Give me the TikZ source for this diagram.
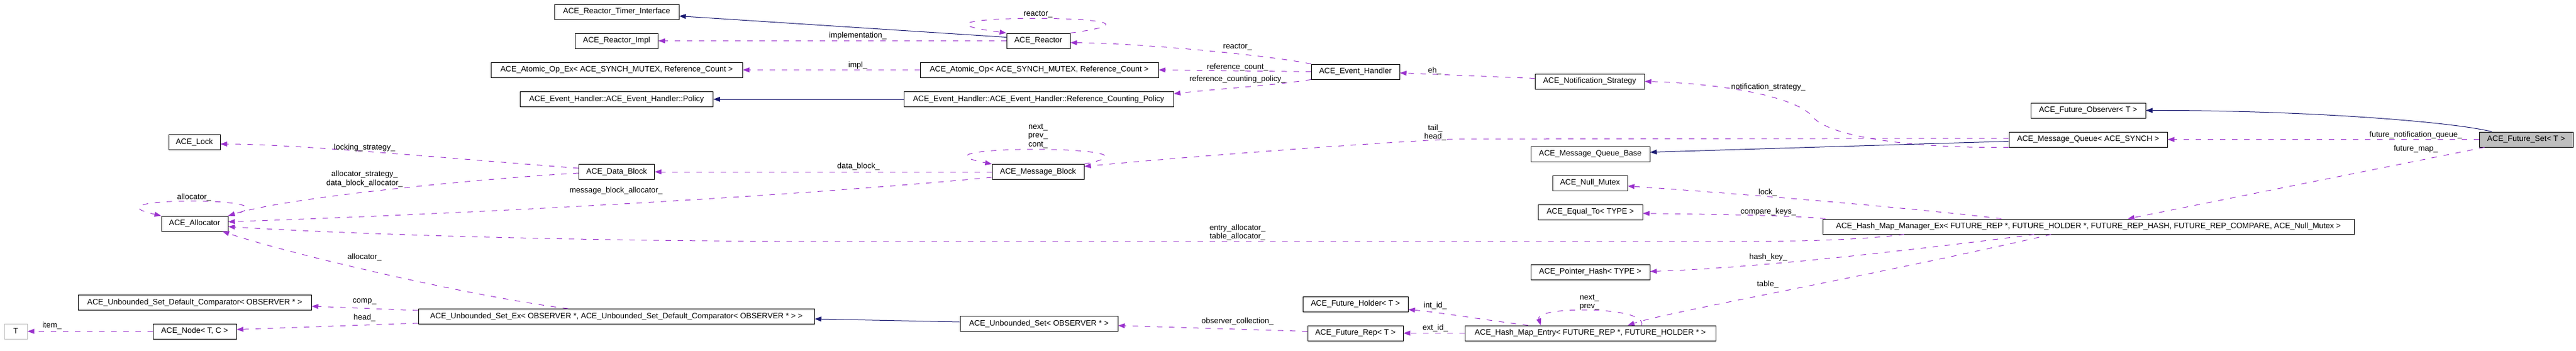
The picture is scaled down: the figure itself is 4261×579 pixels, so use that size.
\documentclass[tikz,border=0pt]{standalone}
\usepackage{fontspec}
\setmainfont{Liberation Sans}
\usetikzlibrary{arrows.meta}
\definecolor{usecol}{HTML}{9A32CD}
\definecolor{isacol}{HTML}{191970}

\begin{document}
\begin{tikzpicture}[x=1pt, y=-1pt,
    cls/.style={draw, line width=1pt, minimum height=25pt, inner sep=0pt, font=\fontsize{13}{14.5}\selectfont},
    lbl/.style={inner sep=0pt, align=center, font=\fontsize{13}{14.5}\selectfont},
    uses/.style={usecol, line width=1pt, dash pattern=on 9pt off 11pt, -{Triangle[length=11pt,width=8pt]}},
    isa/.style={isacol, line width=1pt, -{Triangle[length=11pt,width=8pt]}}]
    \useasboundingbox (0,0) rectangle (4261,579);

    \node[cls, minimum width=38pt, draw=gray!50] (tparam) at (26,547.5) {T};
    \node[cls, minimum width=85pt] (lock) at (321.5,235) {ACE\_Lock};
    \node[cls, minimum width=110pt] (allocator) at (322,369.5) {ACE\_Allocator};
    \node[cls, minimum width=386pt] (comparator) at (322,500) {ACE\_Unbounded\_Set\_Default\_Comparator< OBSERVER * >};
    \node[cls, minimum width=138pt] (acenode) at (322,547.5) {ACE\_Node< T, C >};
    \node[cls, minimum width=206pt] (timer) at (1020,19.5) {ACE\_Reactor\_Timer\_Interface};
    \node[cls, minimum width=137pt] (rimpl) at (1020,67.5) {ACE\_Reactor\_Impl};
    \node[cls, minimum width=416pt] (atomicex) at (1020,115.5) {ACE\_Atomic\_Op\_Ex< ACE\_SYNCH\_MUTEX, Reference\_Count >};
    \node[cls, minimum width=319pt] (policy) at (1020,164) {ACE\_Event\_Handler::ACE\_Event\_Handler::Policy};
    \node[cls, minimum width=125pt] (dblock) at (1020,284) {ACE\_Data\_Block};
    \node[cls, minimum width=655pt] (setex) at (1019.5,523) {ACE\_Unbounded\_Set\_Ex< OBSERVER *, ACE\_Unbounded\_Set\_Default\_Comparator< OBSERVER * > >};
    \node[cls, minimum width=105pt] (reactor) at (1717.5,67.5) {ACE\_Reactor};
    \node[cls, minimum width=394pt] (atomic) at (1719,115.5) {ACE\_Atomic\_Op< ACE\_SYNCH\_MUTEX, Reference\_Count >};
    \node[cls, minimum width=446pt] (rcpolicy) at (1718,164) {ACE\_Event\_Handler::ACE\_Event\_Handler::Reference\_Counting\_Policy};
    \node[cls, minimum width=152pt] (mblock) at (1717,284) {ACE\_Message\_Block};
    \node[cls, minimum width=261pt] (uset) at (1718.5,535) {ACE\_Unbounded\_Set< OBSERVER * >};
    \node[cls, minimum width=146pt] (evh) at (2242,118.5) {ACE\_Event\_Handler};
    \node[cls, minimum width=174pt] (fholder) at (2242,502.5) {ACE\_Future\_Holder< T >};
    \node[cls, minimum width=158pt] (frep) at (2242,550.5) {ACE\_Future\_Rep< T >};
    \node[cls, minimum width=181pt] (notif) at (2629.5,134.5) {ACE\_Notification\_Strategy};
    \node[cls, minimum width=197pt] (mqbase) at (2630.5,254.5) {ACE\_Message\_Queue\_Base};
    \node[cls, minimum width=124pt] (nullmutex) at (2630,302.5) {ACE\_Null\_Mutex};
    \node[cls, minimum width=173pt] (equalto) at (2630.5,350.5) {ACE\_Equal\_To< TYPE >};
    \node[cls, minimum width=197pt] (ptrhash) at (2630.5,449.5) {ACE\_Pointer\_Hash< TYPE >};
    \node[cls, minimum width=415pt] (hmentry) at (2630.5,550.5) {ACE\_Hash\_Map\_Entry< FUTURE\_REP *, FUTURE\_HOLDER * >};
    \node[cls, minimum width=190pt] (fobserver) at (3454,182.5) {ACE\_Future\_Observer< T >};
    \node[cls, minimum width=262pt] (mqueue) at (3454,230.5) {ACE\_Message\_Queue< ACE\_SYNCH >};
    \node[cls, minimum width=879pt] (hmmanager) at (3454.5,374.5) {ACE\_Hash\_Map\_Manager\_Ex< FUTURE\_REP *, FUTURE\_HOLDER *, FUTURE\_REP\_HASH, FUTURE\_REP\_COMPARE, ACE\_Null\_Mutex >};
    \node[cls, minimum width=155pt, fill=gray!50] (fset) at (4178.5,230.5) {ACE\_Future\_Set< T >};

    \draw[isa] ([yshift=6pt]reactor.west) -- ([yshift=-7pt]timer.east);
    \draw[uses] (reactor.west) -- (rimpl.east);
    \draw[uses] (reactor.north east) .. controls +(240,-32) and +(-240,-32) .. (reactor.north west);
    \draw[uses] (evh.north west) .. controls (2100,92) and (1900,72) .. ([yshift=-3pt]reactor.east);
    \draw[uses] (atomic.west) -- (atomicex.east);
    \draw[uses] (evh.west) -- (atomic.east);
    \draw[uses] (evh.south west) .. controls (2100,142) and (2000,148) .. ([yshift=-4pt]rcpolicy.north east);
    \draw[isa] (rcpolicy.west) -- (policy.east);
    \draw[uses] ([yshift=5pt]notif.west) -- ([yshift=-2pt]evh.east);
    \draw[uses] (mqueue.south west) .. controls (3150,245) and (3030,225) .. (3000,195) .. controls (2975,160) and (2850,138) .. (notif.east);
    \draw[isa] ([yshift=-3pt]mqueue.west) -- ([yshift=3pt]mqbase.east);
    \draw[uses] ([yshift=2pt]mqueue.west) -- (2400,230) .. controls (2200,240) and (1900,265) .. ([yshift=9pt]mblock.east);
    \draw[uses] (mblock.north east) .. controls +(165,-32) and +(-165,-32) .. (mblock.north west);
    \draw[uses] (mblock.west) -- (dblock.east);
    \draw[uses] ([yshift=-9pt]mblock.west) .. controls (1300,325) and (800,352) .. ([yshift=3pt]allocator.east);
    \draw[uses] ([yshift=-2pt]dblock.west) .. controls (800,295) and (480,325) .. (allocator.north east);
    \draw[uses] ([yshift=6pt]dblock.west) .. controls (700,258) and (480,238) .. ([yshift=-3pt]lock.east);
    \draw[uses] (allocator.north east) .. controls +(140,-32) and +(-140,-32) .. (allocator.north west);
    \draw[uses] ([xshift=-80pt]setex.north) .. controls (780,490) and (480,420) .. ([xshift=46pt]allocator.south);
    \draw[uses] ([xshift=-305pt]hmmanager.south) .. controls (3050,399) and (2950,399) .. (2800,399) -- (1400,399) .. controls (900,399) and (550,385) .. ([yshift=-5pt]allocator.east);
    \draw[uses] ([yshift=10pt]setex.west) -- ([yshift=-6pt]comparator.east);
    \draw[uses] ([yshift=-11pt]setex.west) -- ([yshift=3pt]acenode.east);
    \draw[uses] (acenode.west) -- (tparam.east);
    \draw[isa] ([yshift=3pt]uset.west) -- ([yshift=-4pt]setex.east);
    \draw[uses] ([yshift=3pt]frep.west) -- ([yshift=-3pt]uset.east);
    \draw[uses] ([xshift=-103pt]hmentry.north) .. controls (2450,528) and (2380,516) .. ([yshift=-9pt]fholder.east);
    \draw[uses] (hmentry.west) -- (frep.east);
    \draw[uses] ([xshift=85pt]hmentry.north) .. controls +(10,-32) and +(-10,-32) .. ([xshift=-82pt]hmentry.north);
    \draw[uses] ([xshift=-62pt]hmmanager.south) .. controls (3100,455) and (2760,515) .. ([xshift=62pt]hmentry.north);
    \draw[uses] ([xshift=-144pt]hmmanager.north) .. controls (3150,342) and (2850,318) .. ([yshift=-5pt]nullmutex.east);
    \draw[uses] ([xshift=5pt]hmmanager.north west) .. controls (2960,355) and (2800,354) .. ([yshift=-2pt]equalto.east);
    \draw[uses] ([xshift=-90pt]hmmanager.south) .. controls (3150,415) and (2900,443) .. ([yshift=1pt]ptrhash.east);
    \draw[isa] ([xshift=-57pt]fset.north) .. controls (4050,200) and (3800,182) .. (fobserver.east);
    \draw[uses] (fset.west) -- (mqueue.east);
    \draw[uses] ([xshift=-69pt]fset.south) -- ([xshift=65pt]hmmanager.north);

    \node[lbl] (l-impl) at (1419,59) {implementation\_};
    \node[lbl] (l-reactorself) at (1717,24) {reactor\_};
    \node[lbl] (l-reactor) at (2047,78) {reactor\_};
    \node[lbl] (l-implp) at (1419,108) {impl\_};
    \node[lbl] (l-refcount) at (2047,111) {reference\_count\_};
    \node[lbl] (l-refpolicy) at (2047,131) {reference\_counting\_policy\_};
    \node[lbl] (l-eh) at (2373,117) {eh\_};
    \node[lbl] (l-notif) at (2925,144) {notification\_strategy\_};
    \node[lbl] (l-tailhead) at (2374,219) {tail\_\\head\_};
    \node[lbl] (l-mbself) at (1717,225) {next\_\\prev\_\\cont\_};
    \node[lbl] (l-datablock) at (1420,275) {data\_block\_};
    \node[lbl] (l-mballoc) at (1019,315) {message\_block\_allocator\_};
    \node[lbl] (l-dballoc) at (603,295.5) {allocator\_strategy\_\\data\_block\_allocator\_};
    \node[lbl] (l-locking) at (603,244) {locking\_strategy\_};
    \node[lbl] (l-allocself) at (321,326) {allocator\_};
    \node[lbl] (l-setalloc) at (603,425) {allocator\_};
    \node[lbl] (l-entryalloc) at (2047,384) {entry\_allocator\_\\table\_allocator\_};
    \node[lbl] (l-comp) at (603,498) {comp\_};
    \node[lbl] (l-head) at (603,525) {head\_};
    \node[lbl] (l-item) at (86,538) {item\_};
    \node[lbl] (l-obscoll) at (2047,531) {observer\_collection\_};
    \node[lbl] (l-intid) at (2374,505) {int\_id\_};
    \node[lbl] (l-extid) at (2374,542) {ext\_id\_};
    \node[lbl] (l-entryself) at (2629,499.5) {next\_\\prev\_};
    \node[lbl] (l-table) at (2924,470) {table\_};
    \node[lbl] (l-lock) at (2924,318) {lock\_};
    \node[lbl] (l-cmpkeys) at (2925,350) {compare\_keys\_};
    \node[lbl] (l-hashkey) at (2925,425) {hash\_key\_};
    \node[lbl] (l-fnq) at (3996,223) {future\_notification\_queue\_};
    \node[lbl] (l-fmap) at (3996,246) {future\_map\_};
\end{tikzpicture}
\end{document}
